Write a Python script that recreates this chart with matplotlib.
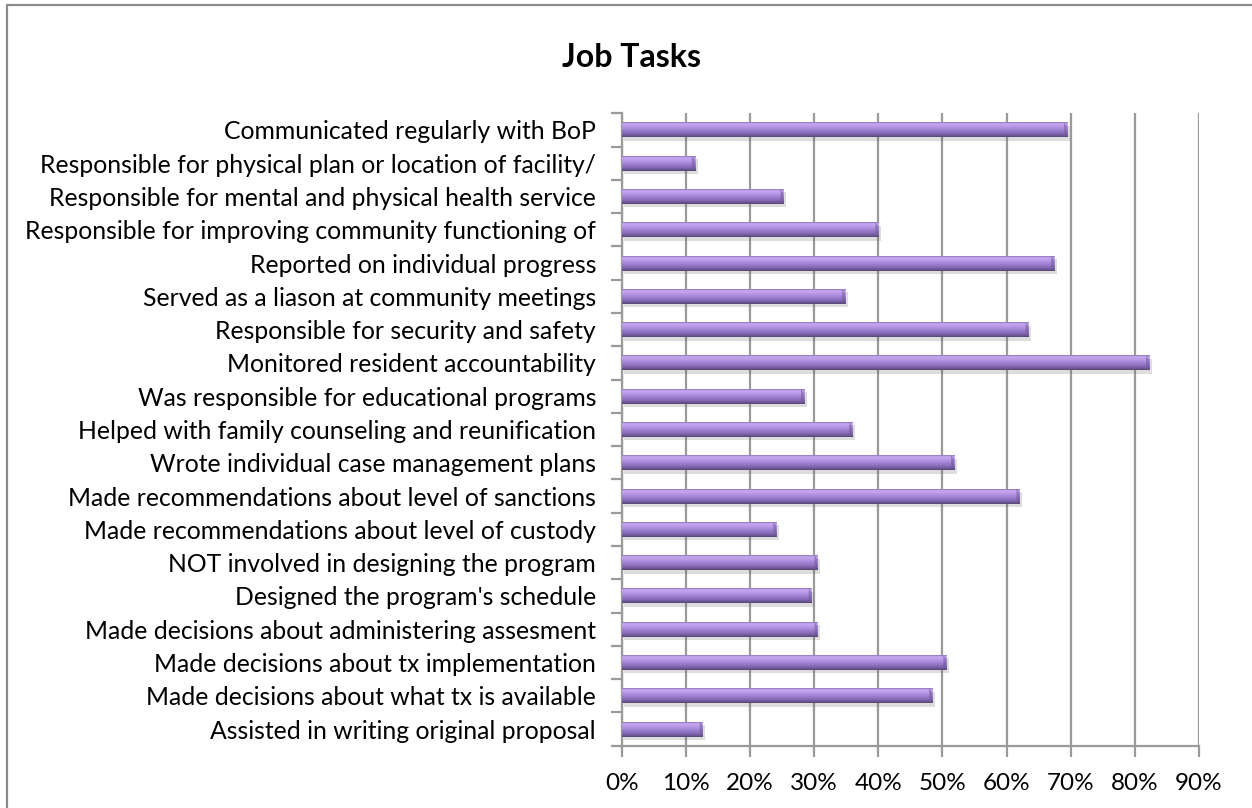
import numpy as np
import matplotlib.pyplot as plt
import matplotlib.patheffects as pe
from matplotlib.colors import LinearSegmentedColormap
from matplotlib.patches import Rectangle
from matplotlib.ticker import FixedLocator, PercentFormatter

plt.rcParams['font.family'] = ['Lato', 'DejaVu Sans']

# data, top to bottom as shown
tasks = [
    "Communicated regularly with BoP",
    "Responsible for physical plan or location of facility/",
    "Responsible for mental and physical health service",
    "Responsible for improving community functioning of",
    "Reported on individual progress",
    "Served as a liason at community meetings",
    "Responsible for security and safety",
    "Monitored resident accountability",
    "Was responsible for educational programs",
    "Helped with family counseling and reunification",
    "Wrote individual case management plans",
    "Made recommendations about level of sanctions",
    "Made recommendations about level of custody",
    "NOT involved in designing the program",
    "Designed the program's schedule",
    "Made decisions about administering assesment",
    "Made decisions about tx implementation",
    "Made decisions about what tx is available",
    "Assisted in writing original proposal",
]
pct = [69.4, 11.4, 25.2, 40.0, 67.4, 34.8, 63.4, 82.2, 28.4, 35.9,
       51.8, 62.0, 24.1, 30.5, 29.6, 30.5, 50.6, 48.4, 12.6]
title = "Job Tasks"

W, H = 1252, 808
fig = plt.figure(figsize=(W / 100, H / 100), dpi=100)
ax = fig.add_axes([621.7 / W, 1 - 745.7 / H, (1199 - 621.7) / W, (745.7 - 113.3) / H])

n = len(tasks)
y = np.arange(n)
bh = 0.45

grad = LinearSegmentedColormap.from_list("bar", [
    (0.0, "#8a72b4"), (0.1, "#c8a9f3"), (0.3, "#b999e8"), (0.5, "#a283d5"),
    (0.75, "#876bb8"), (0.9, "#6c5692"), (1.0, "#584676")])
g = np.linspace(0, 1, 64).reshape(-1, 1)

bars = ax.barh(y, pct, height=bh, color="#9a7cce", zorder=3,
               path_effects=[pe.SimplePatchShadow(offset=(2, -2.5), shadow_rgbFace="#666666", alpha=0.22),
                             pe.Normal()])
for b in bars:
    x0, w = b.get_x(), b.get_width()
    yc = b.get_y() + b.get_height() / 2
    im = ax.imshow(g, cmap=grad, aspect="auto", origin="upper", zorder=4,
                   extent=(x0, x0 + w, yc + bh / 2, yc - bh / 2), interpolation="bilinear")
    im.set_clip_path(b)
    # bevel at the bar end
    ax.fill([x0 + w - 0.45, x0 + w, x0 + w, x0 + w - 0.45],
            [yc - bh / 2, yc - bh / 2 + 0.12, yc + bh / 2 - 0.1, yc + bh / 2],
            color="#6f5a96", alpha=0.55, zorder=5, lw=0)

ax.set_xlim(0, 90)
ax.set_ylim(n - 0.5, -0.5)
ax.set_aspect("auto")

gray = "#9a9a9a"
ax.xaxis.set_major_locator(FixedLocator(np.arange(0, 91, 10)))
ax.xaxis.set_major_formatter(PercentFormatter(decimals=0))
ax.grid(axis="x", color=gray, lw=1.6, zorder=0)
ax.set_axisbelow(True)

ax.yaxis.set_major_locator(FixedLocator(np.arange(-0.5, n, 1)))
ax.yaxis.set_major_formatter(plt.NullFormatter())
ax.yaxis.set_minor_locator(FixedLocator(y))
ax.set_yticklabels(tasks, minor=True)
ax.tick_params(axis="y", which="major", length=8, width=1.6, color=gray)
ax.tick_params(axis="y", which="minor", length=0, pad=18.5)
ax.tick_params(axis="x", length=8, width=1.6, color=gray, pad=12, labelsize=17.5)

for s in ["top", "right"]:
    ax.spines[s].set_visible(False)
for s in ["left", "bottom"]:
    ax.spines[s].set_color(gray)
    ax.spines[s].set_linewidth(1.6)

# fit label size so the longest label spans its width in the reference
r = fig.canvas.get_renderer()
labs = ax.get_yticklabels(minor=True)
for t in labs:
    t.set_fontsize(15)
wmax = max(t.get_window_extent(r).width for t in labs)
fs = 15 * 569 / wmax
for t in labs:
    t.set_fontsize(fs)

fig.text(631 / W, 1 - 67 / H, title, ha="center", va="baseline",
         fontsize=23, fontweight="bold")

fig.patches.append(Rectangle((7 / W, -0.1), 1.2, 1.1 - 5 / H, transform=fig.transFigure,
                             fill=False, edgecolor="#8c8c8c", lw=1.6, clip_on=False))

fig.savefig("out.png", dpi=100, facecolor="white")
